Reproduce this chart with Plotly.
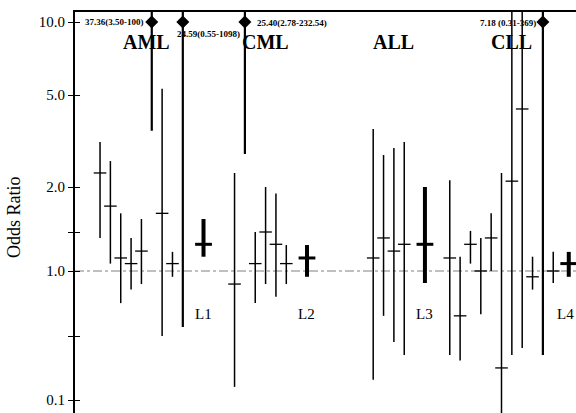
import numpy as np
import plotly.graph_objects as go

# ---------------- data (odds ratios with 95% CI) ----------------
groups = ["AML", "CML", "ALL", "CLL"]
pooled_labels = ["L1", "L2", "L3", "L4"]

aml_est = [2.30, 1.77, 1.145, 1.08, 1.23, 37.36, 1.69, 1.08, 24.59]
aml_lo = [1.41, 1.08, 0.71, 0.82, 0.87, 3.50, 0.50, 0.94, 0.55]
aml_hi = [3.13, 2.59, 1.69, 1.41, 1.63, 100, 5.30, 1.22, 1098]

cml_est = [0.87, 25.40, 1.08, 1.50, 1.32, 1.08]
cml_lo = [0.139, 2.78, 0.71, 0.87, 0.76, 0.87]
cml_hi = [2.30, 232.54, 1.50, 2.00, 1.92, 1.31]

all_est = [1.145, 1.41, 1.23, 1.32]
all_lo = [0.166, 0.62, 0.43, 0.31]
all_hi = [3.56, 2.75, 2.95, 3.13]

cll_est = [1.145, 0.62, 1.32, 1.00, 1.41, 0.224, 2.12, 4.35, 0.94, 7.18, 1.00]
cll_lo = [0.31, 0.27, 1.08, 0.63, 1.00, 0.07, 0.31, 0.37, 0.82, 0.31, 0.88]
cll_hi = [2.14, 1.16, 1.51, 1.41, 1.69, 2.30, 12, 14, 1.16, 369, 1.22]

pooled_est = [1.32, 1.145, 1.32, 1.08]
pooled_lo = [1.16, 0.94, 0.88, 0.94]
pooled_hi = [1.63, 1.31, 2.00, 1.22]

# studies whose estimate is printed at the top of the plot: (group, index, text)
flagged = [(0, 5, "37.36(3.50-100)"), (0, 8, "24.59(0.55-1098)"),
           (1, 1, "25.40(2.78-232.54)"), (3, 9, "7.18 (0.31-369)")]

tick_or = [0.1, 0.5, 1.0, 1.5, 2.0, 5.0, 10.0]
tick_text = ["0.1", "", "1.0", "", "2.0", "5.0", "10.0"]

# ---------------- scale (the original's hand-drawn odds-ratio axis) ----------------
KNOT_OR = np.array([0.1, 0.5, 1.0, 1.5, 2.0, 5.0, 10.0])
KNOT_POS = np.array([-129.0, -65.0, 0.0, 39.0, 84.0, 176.0, 249.0])
AXIS_CAP = 10.0


def scale(v):
    lv = np.log10(np.asarray(v, dtype=float))
    lk = np.log10(KNOT_OR)
    out = np.interp(lv, lk, KNOT_POS)
    lo_s = (KNOT_POS[1] - KNOT_POS[0]) / (lk[1] - lk[0])
    hi_s = (KNOT_POS[-1] - KNOT_POS[-2]) / (lk[-1] - lk[-2])
    out = np.where(lv < lk[0], KNOT_POS[0] + (lv - lk[0]) * lo_s, out)
    out = np.where(lv > lk[-1], KNOT_POS[-1] + (lv - lk[-1]) * hi_s, out)
    return out


# ---------------- layout parameters ----------------
group_start = [0, 13, 26.4, 33.8]
pooled_gap = [2, 2, 2, 1.5]
W, H = 576, 413
ML, MT = 75, 12
plot_h = H - MT


def ypaper(px):
    return (H - px) / plot_h


ests = [aml_est, cml_est, all_est, cll_est]
los = [aml_lo, cml_lo, all_lo, cll_lo]
his = [aml_hi, cml_hi, all_hi, cll_hi]
flag_set = {(g, i) for g, i, _ in flagged}

nx, ny, nex, ney = [], [], [], []
fx, fy, dx_, dy_ = [], [], [], []
px_, py_, pex, pey = [], [], [], []
xpos = {}
for g in range(4):
    s = group_start[g]
    n = len(ests[g])
    for i in range(n):
        x = s + i
        xpos[(g, i)] = x
        lo, hi = scale([los[g][i], his[g][i]])
        if (g, i) in flag_set:
            fx += [x, x, None]
            fy += [lo, hi, None]
            dx_.append(x)
            dy_.append(float(scale(AXIS_CAP)))
        else:
            nx += [x, x, None]
            ny += [lo, hi, None]
            nex.append(x)
            ney.append(float(scale(ests[g][i])))
    xp = s + n - 1 + pooled_gap[g]
    xpos[(g, "pool")] = xp
    lo, hi = scale([pooled_lo[g], pooled_hi[g]])
    px_ += [xp, xp, None]
    py_ += [lo, hi, None]
    pex.append(xp)
    pey.append(float(scale(pooled_est[g])))

fig = go.Figure()
fig.add_trace(go.Scatter(x=nx, y=ny, mode="lines", line=dict(color="black", width=1.5),
                         hoverinfo="skip", showlegend=False))
fig.add_trace(go.Scatter(x=fx, y=fy, mode="lines", line=dict(color="black", width=2.2),
                         hoverinfo="skip", showlegend=False))
fig.add_trace(go.Scatter(x=px_, y=py_, mode="lines", line=dict(color="black", width=4),
                         hoverinfo="skip", showlegend=False))
fig.add_trace(go.Scatter(x=nex, y=ney, mode="markers",
                         marker=dict(symbol="line-ew", size=9, line=dict(color="black", width=1.3)),
                         showlegend=False))
fig.add_trace(go.Scatter(x=pex, y=pey, mode="markers",
                         marker=dict(symbol="line-ew", size=12, line=dict(color="black", width=3)),
                         showlegend=False))
fig.add_trace(go.Scatter(x=dx_, y=dy_, mode="markers",
                         marker=dict(symbol="diamond", size=10, color="black"),
                         showlegend=False))
# invisible trace on the overlay axis (gives the inner half of the tick crosses)
fig.add_trace(go.Scatter(x=[0], y=[0], yaxis="y2", mode="markers",
                         marker=dict(opacity=0), showlegend=False, hoverinfo="skip"))

serif = "Liberation Serif, Times New Roman, serif"

# reference line at OR = 1
fig.add_shape(type="line", xref="paper", x0=0, x1=1, y0=float(scale(1.0)), y1=float(scale(1.0)),
              line=dict(color="#808080", width=1, dash="dashdot"), layer="below")

xr = [-2.42, 46.0]

ann = []
# group labels
for g, name in enumerate(groups):
    n = len(ests[g])
    cx = group_start[g] + (n - 1) / 2 + (0.5 if g < 3 else 1.0)
    ann.append(dict(x=cx, y=ypaper(42), xref="x", yref="paper", text="<b>" + name + "</b>",
                    showarrow=False, font=dict(family=serif, size=20, color="black"),
                    xanchor="center", yanchor="middle"))
# pooled labels
for g, lab in enumerate(pooled_labels):
    xp = xpos[(g, "pool")]
    anc = "center"
    if g == len(pooled_labels) - 1:
        xp, anc = xr[1], "right"
    ann.append(dict(x=xp, y=ypaper(314), xref="x", yref="paper", text=lab,
                    showarrow=False, font=dict(family=serif, size=15, color="black"),
                    xanchor=anc, yanchor="middle"))
# flagged labels
flag_offsets = [(-0.6, "right", 22), (-0.75, "left", 34), (1.0, "left", 23), (-0.5, "right", 23)]
for (g, i, txt), (dx, anc, ypx) in zip(flagged, flag_offsets):
    ann.append(dict(x=xpos[(g, i)] + dx, y=ypaper(ypx), xref="x", yref="paper", text="<b>" + txt + "</b>",
                    showarrow=False, font=dict(family=serif, size=9, color="black"),
                    xanchor=anc, yanchor="middle"))
# y title
ann.append(dict(x=(14 - ML) / (W - ML), y=ypaper(217), xref="paper", yref="paper", text="Odds Ratio",
                showarrow=False, textangle=-90, font=dict(family=serif, size=18, color="black"),
                xanchor="center", yanchor="middle"))

yr = [float(scale(1.0)) - (H - 271), float(scale(1.0)) + (271 - MT)]
tv = [float(v) for v in scale(tick_or)]

fig.update_layout(
    width=W, height=H,
    margin=dict(l=ML, r=0, t=MT, b=0),
    paper_bgcolor="white", plot_bgcolor="white",
    showlegend=False,
    annotations=ann,
    xaxis=dict(range=xr, side="top", showline=True, linecolor="black", linewidth=1.5,
               showticklabels=False, ticks="", showgrid=False, zeroline=False, fixedrange=True),
    yaxis=dict(range=yr, tickvals=tv, ticktext=tick_text, ticks="outside", ticklen=5, tickwidth=1,
               tickcolor="black", showline=True, linecolor="black", linewidth=2, automargin=False,
               showgrid=False, zeroline=False, tickfont=dict(family=serif, size=15, color="black")),
    yaxis2=dict(range=yr, overlaying="y", side="left", tickvals=tv, showticklabels=False,
                ticks="inside", ticklen=5, tickwidth=1, tickcolor="black", showline=False,
                showgrid=False, zeroline=False, automargin=False),
)

fig.write_html("out.html", config={"displayModeBar": False},
               post_script="document.body.style.margin='0';document.body.style.overflow='hidden';")
